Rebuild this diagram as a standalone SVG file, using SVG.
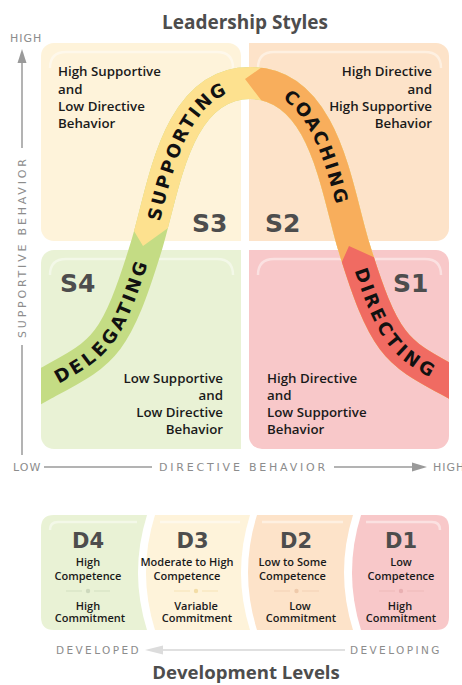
<svg xmlns="http://www.w3.org/2000/svg" xmlns:xlink="http://www.w3.org/1999/xlink" width="462" height="685" viewBox="0 0 462 685">
<style>
.title{font-family:"Open Sans","DejaVu Sans",sans-serif;font-weight:700;font-size:19px;fill:#4d4d4d}
.ax{font-family:"DejaVu Sans",sans-serif;font-size:11px;fill:#8c8c8c;letter-spacing:2.8px}
.axl{stroke:#9a9a9a;stroke-width:1.5;fill:none}
.q{font-family:"Open Sans","DejaVu Sans",sans-serif;font-weight:600;font-size:13.3px;fill:#1a1a1a}
.s{font-family:"DejaVu Sans",sans-serif;font-weight:700;font-size:25px;fill:#4d4d4d}
.d{font-family:"DejaVu Sans",sans-serif;font-weight:700;font-size:21px;fill:#4d4d4d;text-anchor:middle}
.dt{font-family:"Open Sans","DejaVu Sans",sans-serif;font-weight:600;font-size:11px;fill:#1a1a1a;text-anchor:middle}
.band{fill:none;stroke-width:32}
.bt{font-family:"DejaVu Sans",sans-serif;font-weight:700;font-size:18px;fill:#111;letter-spacing:2.6px}
.hl{fill:none;stroke:#fff;stroke-opacity:0.45;stroke-width:2.5}
.dv{font-family:"DejaVu Sans",sans-serif;font-size:10.5px;fill:#8c8c8c;letter-spacing:2.4px}
</style>
<defs>
<path id="curve" d="M20,397.5 L41,386 C103,352 114,352 147,244 C163.8,188.3 176,83 250,83 C324,83 336.2,188.3 353,244 C386,352 397,352 459,386 L480,397.5"/>
<clipPath id="bandclip"><rect x="41" y="0" width="408" height="685"/></clipPath>
<clipPath id="cy"><polygon points="0,0 462,0 462,685 185,685 185,223 175,223 143,246 125,216 0,216"/></clipPath>
<clipPath id="co"><polygon points="272,0 462,0 462,685 264,685 264,104 245,79 272,60"/></clipPath>
<clipPath id="cr"><polygon points="336,275 349,246 380,260 462,260 462,685 336,685"/></clipPath>
</defs>

<text class="title" x="245" y="29" text-anchor="middle">Leadership Styles</text>

<g id="q-s3">
<path d="M41,56 a13,13 0 0 1 13,-13 H228 a13,13 0 0 1 13,13 V241 H54 a13,13 0 0 1 -13,-13 Z" fill="#fef3da"/>
<path class="hl" d="M50,68 Q50,52 66,52 H217 Q233,52 233,68"/>
<text class="q" x="58" y="76">High Supportive</text>
<text class="q" x="58" y="93.5">and</text>
<text class="q" x="58" y="111">Low Directive</text>
<text class="q" x="58" y="128">Behavior</text>
<text class="s" x="192" y="232">S3</text>
</g>
<g id="q-s2">
<path d="M249,43 H436 a13,13 0 0 1 13,13 V228 a13,13 0 0 1 -13,13 H249 Z" fill="#fde3c9"/>
<path class="hl" d="M258,68 Q258,52 274,52 H425 Q441,52 441,68"/>
<text class="q" x="432" y="76" text-anchor="end">High Directive</text>
<text class="q" x="432" y="93.5" text-anchor="end">and</text>
<text class="q" x="432" y="111" text-anchor="end">High Supportive</text>
<text class="q" x="432" y="128" text-anchor="end">Behavior</text>
<text class="s" x="265" y="232">S2</text>
</g>
<g id="q-s4">
<path d="M41,263 a13,13 0 0 1 13,-13 H241 V449 H54 a13,13 0 0 1 -13,-13 Z" fill="#e9f2d5"/>
<path class="hl" d="M50,275 Q50,259 66,259 H217 Q233,259 233,275"/>
<text class="q" x="223" y="383" text-anchor="end">Low Supportive</text>
<text class="q" x="223" y="400" text-anchor="end">and</text>
<text class="q" x="223" y="417" text-anchor="end">Low Directive</text>
<text class="q" x="223" y="434" text-anchor="end">Behavior</text>
<text class="s" x="60" y="292">S4</text>
</g>
<g id="q-s1">
<path d="M249,250 H436 a13,13 0 0 1 13,13 V436 a13,13 0 0 1 -13,13 H262 a13,13 0 0 1 -13,-13 Z" fill="#f8c8c9"/>
<path class="hl" d="M258,275 Q258,259 274,259 H425 Q441,259 441,275"/>
<text class="q" x="267" y="383">High Directive</text>
<text class="q" x="267" y="400">and</text>
<text class="q" x="267" y="417">Low Supportive</text>
<text class="q" x="267" y="434">Behavior</text>
<text class="s" x="393" y="292">S1</text>
</g>

<g id="styles-curve" clip-path="url(#bandclip)">
<use xlink:href="#curve" href="#curve" class="band" stroke="#c4dc84"/>
<use xlink:href="#curve" href="#curve" class="band" stroke="#fde18f" clip-path="url(#cy)"/>
<use xlink:href="#curve" href="#curve" class="band" stroke="#f8ae5c" clip-path="url(#co)"/>
<use xlink:href="#curve" href="#curve" class="band" stroke="#f06b62" clip-path="url(#cr)"/>
<text class="bt" dy="6.5"><textPath href="#curve" xlink:href="#curve" startOffset="117" text-anchor="middle">DELEGATING</textPath></text>
<text class="bt" dy="6.5"><textPath href="#curve" xlink:href="#curve" startOffset="313" text-anchor="middle">SUPPORTING</textPath></text>
<text class="bt" dy="6.5"><textPath href="#curve" xlink:href="#curve" startOffset="518" text-anchor="middle">COACHING</textPath></text>
<text class="bt" dy="6.5"><textPath href="#curve" xlink:href="#curve" startOffset="714" text-anchor="middle">DIRECTING</textPath></text>
</g>

<g id="axes">
<text class="ax" x="10" y="42" style="letter-spacing:1px">HIGH</text>
<line class="axl" x1="22" y1="60" x2="22" y2="148"/>
<polygon points="22,49 17.5,63 26.5,63" fill="#9a9a9a"/>
<text class="ax" transform="translate(26,338) rotate(-90)" x="0" y="0">SUPPORTIVE BEHAVIOR</text>
<line class="axl" x1="22" y1="345" x2="22" y2="455"/>
<text class="ax" x="13" y="471" style="letter-spacing:1px">LOW</text>
<line class="axl" x1="44" y1="467" x2="152" y2="467"/>
<text class="ax" x="159" y="471">DIRECTIVE BEHAVIOR</text>
<line class="axl" x1="334" y1="467" x2="414" y2="467"/>
<polygon points="427,467 412,462.5 412,471.5" fill="#9a9a9a"/>
<text class="ax" x="433" y="471" style="letter-spacing:1px">HIGH</text>
</g>

<g id="d4">
<path d="M41,528 Q41,515 54,515 H147 Q129,572.5 147,630 H54 Q41,630 41,617 Z" fill="#e9f2d5"/>
<path class="hl" d="M50,530 Q50,522 58,522 H137"/>
<text class="d" x="88" y="548">D4</text>
<text class="dt" x="88" y="566">High</text>
<text class="dt" x="88" y="579.5">Competence</text>
<path d="M66,591 H82 M94,591 H110" stroke="#d3dfc2" stroke-width="1.2"/>
<circle cx="88" cy="591" r="2.2" fill="#cdd9bd"/>
<text class="dt" x="88" y="609.5">High</text>
<text class="dt" x="90" y="622">Commitment</text>
</g>
<g id="d3">
<path d="M155,515 H250 Q232,572.5 250,630 H155 Q137,572.5 155,515 Z" fill="#fef3da"/>
<path class="hl" d="M160,522 H240"/>
<text class="d" x="192.5" y="548">D3</text>
<text class="dt" x="187" y="566">Moderate to High</text>
<text class="dt" x="187" y="579.5">Competence</text>
<path d="M174,591 H190 M202,591 H218" stroke="#f5e3b6" stroke-width="1.2"/>
<circle cx="196" cy="591" r="2.2" fill="#f3dda6"/>
<text class="dt" x="196" y="609.5">Variable</text>
<text class="dt" x="197" y="622">Commitment</text>
</g>
<g id="d2">
<path d="M257,515 H353 Q335,572.5 353,630 H257 Q239,572.5 257,515 Z" fill="#fde3c9"/>
<path class="hl" d="M262,522 H343"/>
<text class="d" x="296" y="548">D2</text>
<text class="dt" x="292.5" y="566">Low to Some</text>
<text class="dt" x="292.5" y="579.5">Competence</text>
<path d="M274,591 H290 M302,591 H319" stroke="#f3d2b6" stroke-width="1.2"/>
<circle cx="296.5" cy="591" r="2.2" fill="#efcaab"/>
<text class="dt" x="300" y="609.5">Low</text>
<text class="dt" x="301" y="622">Commitment</text>
</g>
<g id="d1">
<path d="M361,515 H436 Q449,515 449,528 V617 Q449,630 436,630 H361 Q343,572.5 361,515 Z" fill="#f8c8c9"/>
<path class="hl" d="M366,522 H432 Q440,522 440,530"/>
<text class="d" x="401" y="548">D1</text>
<text class="dt" x="401" y="566">Low</text>
<text class="dt" x="401" y="579.5">Competence</text>
<path d="M379,591 H395 M407,591 H424" stroke="#eeb9ba" stroke-width="1.2"/>
<circle cx="401" cy="591" r="2.2" fill="#e9b0b2"/>
<text class="dt" x="400" y="609.5">High</text>
<text class="dt" x="401" y="622">Commitment</text>
</g>

<g id="dev-axis">
<text class="dv" x="56" y="654">DEVELOPED</text>
<line x1="158" y1="650" x2="345" y2="650" stroke="#d6d6d6" stroke-width="1.5"/>
<polygon points="145,650 163,645.5 163,654.5" fill="#dcdcdc"/>
<text class="dv" x="350" y="654">DEVELOPING</text>
</g>
<text class="title" x="246" y="679" text-anchor="middle" style="font-size:18.6px">Development Levels</text>
</svg>
